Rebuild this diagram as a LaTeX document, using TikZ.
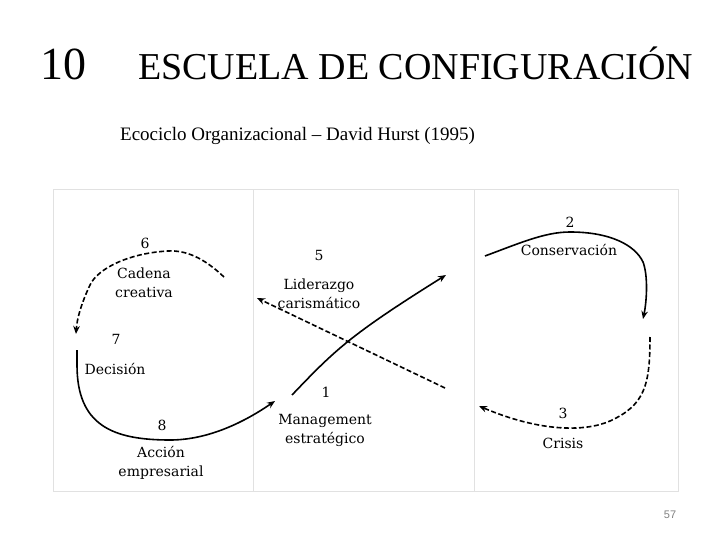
\documentclass[tikz,border=0pt]{standalone}
\usepackage{fontspec}
\setmainfont{Liberation Serif}
\newfontfamily\labelfont{DejaVu Serif}
\newfontfamily\pagefont{Liberation Sans}
\usetikzlibrary{arrows.meta}
\definecolor{boxgray}{RGB}{225,225,225}
\begin{document}
\begin{tikzpicture}[x=1pt, y=-1pt,
                    lbl/.style = {font = \labelfont\fontsize{14}{19}\selectfont, align = center, inner sep = 0pt},
                    arr/.style = {-{Stealth[length = 8pt, width = 6.5pt]}, line width = 1.6pt},
                    dasharr/.style = {arr, dash pattern = on 5pt off 2.5pt}]
                        \useasboundingbox (0, 0) rectangle (720, 540);
                        % titles
                        \node [anchor = base west, inner sep = 0pt, font = \fontsize{46}{46}\selectfont] (num) at (40, 80) {10};
                        \node [anchor = base west, inner sep = 0pt, font = \fontsize{38}{38}\selectfont] (title) at (138, 80) {ESCUELA DE CONFIGURACIÓN};
                        \node [anchor = base west, inner sep = 0pt, font = \fontsize{19}{19}\selectfont] (sub) at (120, 141) {Ecociclo Organizacional -- David Hurst (1995)};
                        % frame
                        \draw [boxgray, line width = 1pt] (53, 190) rectangle (678, 491);
                        \draw [boxgray, line width = 1pt] (253, 190) -- (253, 491);
                        \draw [boxgray, line width = 1pt] (474, 190) -- (474, 491);
                        % labels
                        \node [lbl] (n6) at (145, 243) {6};
                        \node [lbl] (cadena) at (144, 283) {Cadena\\creativa};
                        \node [lbl] (n5) at (319, 255) {5};
                        \node [lbl] (liderazgo) at (319, 294) {Liderazgo\\carismático};
                        \node [lbl] (n2) at (570, 222) {2};
                        \node [lbl] (conserv) at (569, 250) {Conservación};
                        \node [lbl] (n7) at (116, 339) {7};
                        \node [lbl] (decision) at (115, 369) {Decisión};
                        \node [lbl] (n1) at (326, 392) {1};
                        \node [lbl] (manag) at (325, 430) {Management\\estratégico};
                        \node [lbl] (n8) at (162, 425) {8};
                        \node [lbl] (accion) at (161, 463) {Acción\\empresarial};
                        \node [lbl] (n3) at (563, 413) {3};
                        \node [lbl] (crisis) at (563, 443) {Crisis};
                        % cycle
                        \draw [dasharr] (224, 277) .. controls (204, 258) and (186, 250) .. (168, 251)
                                        .. controls (130, 253) and (98, 268) .. (90, 285)
                                        .. controls (82, 302) and (77, 318) .. (76, 334);
                        \draw [arr] (77, 350) -- (77, 365) .. controls (77, 425) and (112, 440) .. (170, 440)
                                    .. controls (205, 440) and (240, 425) .. (275, 401);
                        \draw [arr] (292, 395) .. controls (335, 350) and (350, 335) .. (446, 275);
                        \draw [dasharr] (445, 388) -- (257, 298);
                        \draw [arr] (485, 256) .. controls (520, 243) and (545, 232) .. (570, 232)
                                    .. controls (610, 232) and (635, 245) .. (643, 262)
                                    .. controls (648, 275) and (647, 300) .. (643, 319);
                        \draw [dasharr] (650, 337) .. controls (650, 385) and (645, 405) .. (610, 421)
                                        .. controls (585, 432) and (540, 432) .. (479, 406);
                        % page number
                        \node [font = \pagefont\fontsize{11}{11}\selectfont, text = gray] (page) at (670, 515) {57};
                    \end{tikzpicture}
\end{document}
